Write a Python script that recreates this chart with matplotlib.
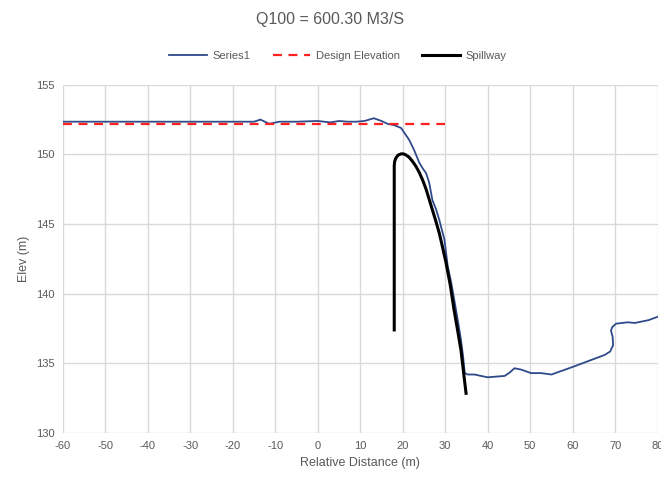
import matplotlib.pyplot as plt
import numpy as np

plt.rcParams['font.family'] = ['Liberation Sans', 'DejaVu Sans']
plt.rcParams['axes.unicode_minus'] = False

# Series1 profile (relative distance, elevation)
s1_x = [-60, -20, -15, -13.5, -11.4, -9, -5, 0, 3, 5, 7, 9, 11, 13.2, 15, 16.4,
        18, 19.6, 20.5, 21.5, 22.7, 23.9, 24.7, 25.5, 26.2, 27.0, 27.8, 28.6,
        29.8, 30.6, 31.4, 32.1, 32.9, 33.7, 34.2, 34.6, 35.3, 36.9, 38.4, 40.0,
        44.0, 45.2, 46.3, 47.9, 50.2, 52.6, 55.0, 60.5, 64.4, 67.5, 68.8, 69.5,
        69.4, 69.0, 69.3, 70.2, 73.0, 74.6, 77.8, 80.5]
s1_y = [152.35, 152.35, 152.35, 152.5, 152.2, 152.35, 152.35, 152.4, 152.3,
        152.4, 152.35, 152.35, 152.4, 152.6, 152.4, 152.2, 152.1, 151.9, 151.5,
        151.05, 150.3, 149.4, 149.0, 148.65, 148.0, 146.7, 146.1, 145.3, 143.9,
        141.95, 140.8, 139.6, 138.2, 136.7, 135.5, 134.3, 134.2, 134.2, 134.1,
        134.0, 134.1, 134.35, 134.65, 134.55, 134.3, 134.3, 134.2, 134.8, 135.25,
        135.6, 135.85, 136.3, 136.9, 137.35, 137.6, 137.85, 137.95, 137.9,
        138.1, 138.4]

# Design elevation
de_x = [-60, 30]
de_y = [152.2, 152.2]

# Spillway crest
sp_x = [18.0, 18.0, 18.1, 18.4, 18.9, 19.6, 20.2, 20.7, 21.5, 22.3, 23.1, 23.9,
        24.7, 25.5, 26.2, 27.0, 27.8, 28.6, 29.4, 30.2, 31.2, 32.1, 32.9, 33.7,
        34.3, 34.9]
sp_y = [137.4, 149.2, 149.5, 149.75, 149.95, 150.04, 150.04, 149.97, 149.8,
        149.5, 149.15, 148.7, 148.15, 147.5, 146.8, 146.0, 145.2, 144.35, 143.3,
        142.2, 140.6, 138.8, 137.4, 135.96, 134.4, 132.85]

fig = plt.figure(figsize=(6.61, 4.79), dpi=100)
ax = fig.add_axes([0.095, 0.096, 0.9, 0.727])

ax.plot(s1_x, s1_y, color='#2f4a8a', lw=1.3, label='Series1')
ax.plot(de_x, de_y, color='#ff2020', lw=1.6, ls=(0, (4, 3)), label='Design Elevation')
ax.plot(sp_x, sp_y, color='black', lw=2.2, label='Spillway',
        solid_joinstyle='round')

ax.set_xlim(-60, 80)
ax.set_ylim(130, 155)
ax.set_xticks(np.arange(-60, 81, 10))
ax.set_yticks(np.arange(130, 156, 5))
ax.grid(True, color='#d9d9d9', lw=1)
ax.set_axisbelow(True)
for s in ax.spines.values():
    s.set_visible(False)
ax.tick_params(length=0, labelsize=8, labelcolor='#595959', pad=6)

ax.set_xlabel('Relative Distance (m)', fontsize=9, color='#595959')
ax.set_ylabel('Elev (m)', fontsize=9, color='#595959')
fig.suptitle('Q100 = 600.30 M3/S', y=0.975, fontsize=11.5, color='#595959')
fig.legend(loc='upper center', bbox_to_anchor=(0.511, 0.915), ncol=3,
           frameon=False, fontsize=8, handlelength=3.4, handletextpad=0.5,
           columnspacing=2.0, labelcolor='#595959')

plt.savefig('out.png')
